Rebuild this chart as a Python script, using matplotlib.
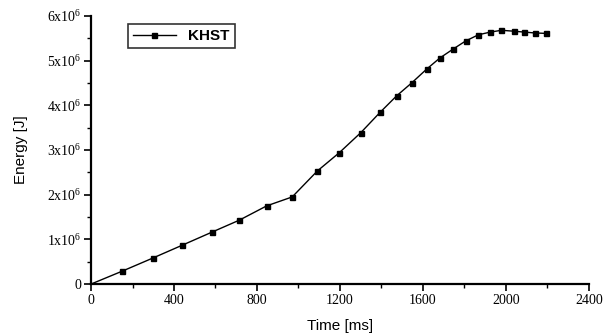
import matplotlib
matplotlib.use("Agg")
import matplotlib.pyplot as plt
from matplotlib.ticker import MultipleLocator, FixedLocator

time_ms = [0, 151, 297, 440, 582, 715, 847, 970, 1091, 1197, 1301, 1393, 1473, 1548,
           1618, 1682, 1746, 1806, 1868, 1926, 1979, 2037, 2088, 2140, 2196]
energy_mj = [0.0, 0.29, 0.58, 0.87, 1.16, 1.43, 1.75, 1.95, 2.53, 2.94, 3.39, 3.84, 4.21, 4.51,
             4.81, 5.06, 5.26, 5.44, 5.58, 5.64, 5.68, 5.66, 5.64, 5.62, 5.61]
energy = [e * 1e6 for e in energy_mj]
series_label = "KHST"
x_ticks = [0, 400, 800, 1200, 1600, 2000, 2400]
y_ticks = [0, 1e6, 2e6, 3e6, 4e6, 5e6, 6e6]
y_tick_labels = ["0"] + [r"$\mathregular{%dx10^6}$" % i for i in range(1, 7)]

plt.rcParams['mathtext.fontset'] = 'stix'

fig = plt.figure(figsize=(6.07, 3.33), dpi=100)
ax = fig.add_axes([0.150, 0.147, 0.820, 0.805])

ax.plot(time_ms, energy, color="black", lw=1.0, marker="s", markersize=3.6,
        markevery=list(range(1, len(time_ms))), label=series_label)

ax.set_xlim(0, 2400)
ax.set_ylim(0, 6e6)
ax.xaxis.set_major_locator(FixedLocator(x_ticks))
ax.xaxis.set_minor_locator(MultipleLocator(200))
ax.yaxis.set_major_locator(FixedLocator(y_ticks))
ax.yaxis.set_minor_locator(MultipleLocator(0.5e6))
ax.set_xticklabels([str(v) for v in x_ticks], family="Liberation Serif", fontsize=10)
ax.set_yticklabels(y_tick_labels, family="Liberation Serif", fontsize=10)

for s in ["top", "right"]:
    ax.spines[s].set_visible(False)
for s in ["left", "bottom"]:
    ax.spines[s].set_linewidth(1.6)
ax.tick_params(which="major", direction="out", length=5, width=1.2, pad=2)
ax.tick_params(which="minor", direction="out", length=3, width=1.0)

ax.set_xlabel("Time [ms]", family="Liberation Sans", fontsize=11, labelpad=9)
ax.set_ylabel("Energy [J]", family="Liberation Sans", fontsize=11, labelpad=14)

leg = ax.legend(loc="upper left", bbox_to_anchor=(0.058, 1.0), frameon=True, fancybox=False,
                edgecolor="black", handlelength=2.8, borderpad=0.35,
                prop={"family": "Liberation Sans", "weight": "bold", "size": 11})
leg.get_frame().set_linewidth(1.2)

fig.savefig("out.png", dpi=100)
